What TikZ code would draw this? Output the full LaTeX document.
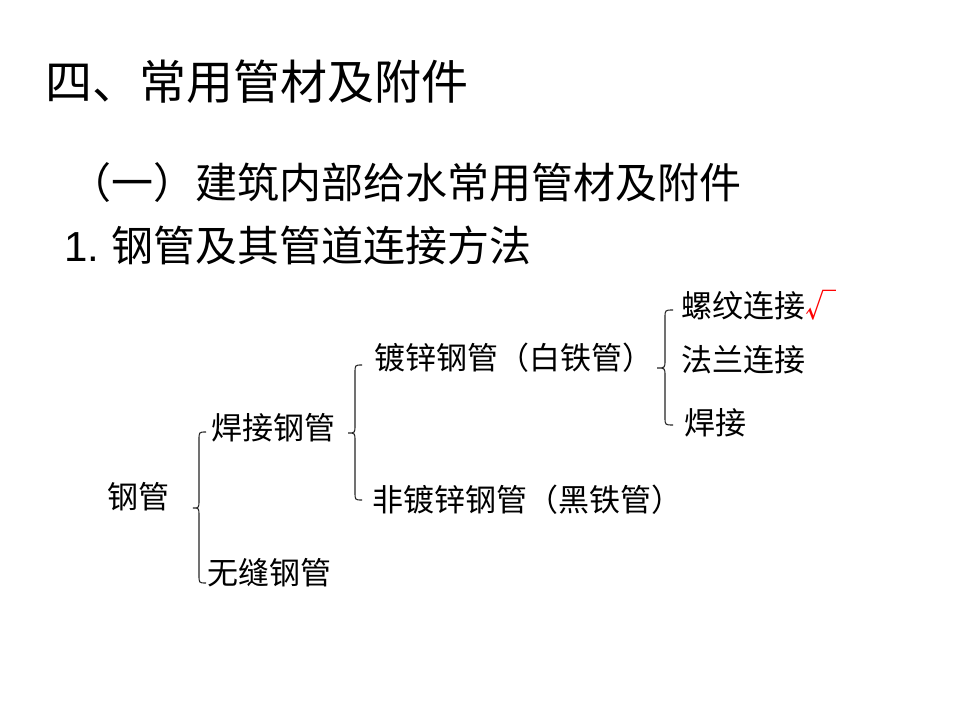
\documentclass[tikz,border=0pt]{standalone}
\usepackage{fontspec}
\setmainfont{Noto Sans CJK SC}
\newfontfamily\arialf{Liberation Sans}
\begin{document}
\begin{tikzpicture}[x=0.75pt,y=-0.75pt,
  txt/.style={anchor=west,inner sep=0pt,font=\fontsize{23.25pt}{26pt}\selectfont},
  bracestyle/.style={draw=black!85,line width=0.8pt}]
\useasboundingbox[fill=white] (0,0) rectangle (960,720);
\node[anchor=west,inner sep=0pt,font=\fontsize{35.25pt}{40pt}\selectfont] (title) at (45,82) {四、常用管材及附件};
\node[anchor=west,inner sep=0pt,font=\fontsize{31.5pt}{36pt}\selectfont] (sub) at (69,183) {（一）建筑内部给水常用管材及附件};
\node[anchor=west,inner sep=0pt,font=\fontsize{31.5pt}{36pt}\selectfont] (sub2) at (64,245) {{\arialf 1.}\hspace{9pt}钢管及其管道连接方法};
\node[txt] (gg) at (107,497) {钢管};
\node[txt] (hj) at (211,428) {焊接钢管};
\node[txt] (wf) at (207,573) {无缝钢管};
\node[txt] (dx) at (374,358) {镀锌钢管（白铁管）};
\node[txt] (fdx) at (372,500) {非镀锌钢管（黑铁管）};
\node[txt] (lw) at (681,305) {螺纹连接{\color{red}√}};
\node[txt] (fl) at (681,360) {法兰连接};
\node[txt] (hj2) at (684,423) {焊接};
% braces
\draw[bracestyle] (206,432) .. controls (199,432) .. (199,440) -- (199,500) .. controls (199,508) .. (193,508) .. controls (199,508) .. (199,516) -- (199,575) .. controls (199,583) .. (206,583);
\draw[bracestyle] (362,365) .. controls (355,365) .. (355,373) -- (355,425) .. controls (355,433) .. (348,433) .. controls (355,433) .. (355,441) -- (355,492) .. controls (355,500) .. (362,500);
\draw[bracestyle] (673,310) .. controls (665,310) .. (665,318) -- (665,360) .. controls (665,368) .. (657,368) .. controls (665,368) .. (665,376) -- (665,417) .. controls (665,425) .. (673,425);
\end{tikzpicture}
\end{document}
